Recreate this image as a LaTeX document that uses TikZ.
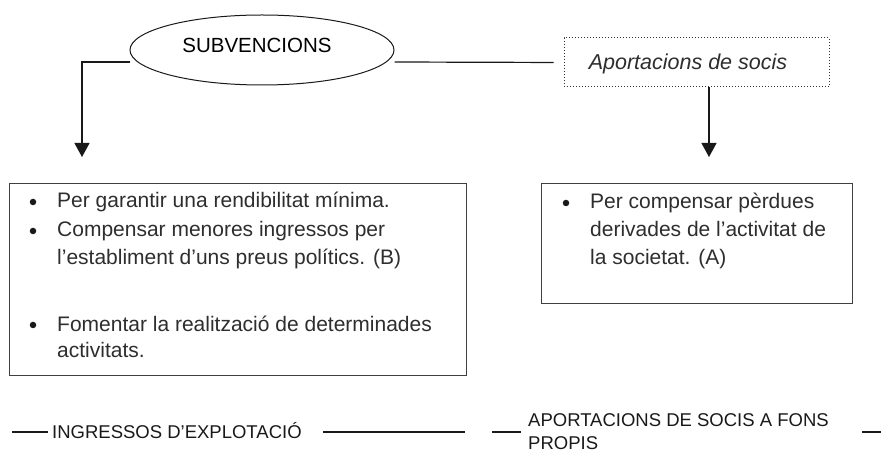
\documentclass[tikz,border=0pt]{standalone}
\usepackage{fontspec}
\setmainfont{Liberation Sans}
\usetikzlibrary{arrows.meta,shapes.geometric}
\begin{document}
\begin{tikzpicture}[x=1pt,y=-1pt,
  conn/.style={draw=black!90, line width=1.2pt},
  tipped/.style={-{Triangle[width=15pt,length=14pt]}},
  boxed/.style={draw=black!75, line width=1.1pt, inner sep=0pt, anchor=north west},
  body/.style={font=\fontsize{21}{28}\selectfont, text=black!82, inner sep=0pt, anchor=base west},
  bul/.style={circle, fill=black!90, inner sep=0pt, minimum size=6.5pt},
  foot/.style={font=\fontsize{18.5}{24}\selectfont, text=black!90, inner sep=0pt, anchor=base west}]
\useasboundingbox (0,0) rectangle (881,454);
\fill[white] (0,0) rectangle (881,454);

% top shapes
\node[ellipse, draw=black!90, line width=1pt, minimum width=264pt, minimum height=70pt, inner sep=0pt] (sub) at (262,50) {};
\node[font=\fontsize{20.5}{24}\selectfont, inner sep=0pt, anchor=base] (subt) at (257,53) {SUBVENCIONS};
\node[draw=black!80, dotted, line width=1pt, minimum width=265pt, minimum height=49pt, inner sep=0pt] (apo) at (696.5,62.5) {};
\node[font=\fontsize{21.5}{24}\selectfont\itshape, text=black!82, inner sep=0pt, anchor=base] (apot) at (688,70) {Aportacions de socis};

% boxes
\node[boxed, minimum width=457pt, minimum height=192pt] (lbox) at (9,183) {};
\node[boxed, minimum width=311pt, minimum height=120pt] (rbox) at (541,183) {};

% connectors
\coordinate (la) at (82,157);
\coordinate (ra) at (709,157);
\draw[conn, tipped] ([yshift=-12pt]sub.west) -| (la);
\draw[conn, shorten >=10pt] ([yshift=-12pt]sub.east) -- (apo.west);
\draw[conn, tipped] (ra |- apo.south) -- (ra);

% left box content
\node[bul] (b1) at (33,202) {};
\node[body] (l1) at (57,208) {Per garantir una rendibilitat mínima.};
\node[bul] (b2) at (33,231) {};
\node[body] (l2) at (57,237) {Compensar menores ingressos per};
\node[body] (l3) at (57,265) {l’establiment d’uns preus polítics. (B)};
\node[bul] (b3) at (33,325) {};
\node[body] (l4) at (57,331) {Fomentar la realització de determinades};
\node[body] (l5) at (57,358) {activitats.};

% right box content
\node[bul] (b4) at (566,203) {};
\node[body] (r1) at (590,209) {Per compensar pèrdues};
\node[body] (r2) at (590,237) {derivades de l’activitat de};
\node[body] (r3) at (590,265) {la societat. (A)};

% footer
\node[foot] (ing) at (52,438.5) {INGRESSOS D’EXPLOTACIÓ};
\node[foot] (fon) at (528,426) {APORTACIONS DE SOCIS A FONS};
\node[foot] (pro) at (528,449) {PROPIS};
\coordinate (f1a) at (12,432); \coordinate (f1b) at (48,432);
\coordinate (f2a) at (323,432); \coordinate (f2b) at (465,432);
\coordinate (f3a) at (492,432); \coordinate (f3b) at (521,432);
\coordinate (f4a) at (862,432); \coordinate (f4b) at (881,432);
\draw[conn] (f1a) -- (f1b);
\draw[conn] (f2a) -- (f2b);
\draw[conn] (f3a) -- (f3b);
\draw[conn] (f4a) -- (f4b);
\end{tikzpicture}
\end{document}
